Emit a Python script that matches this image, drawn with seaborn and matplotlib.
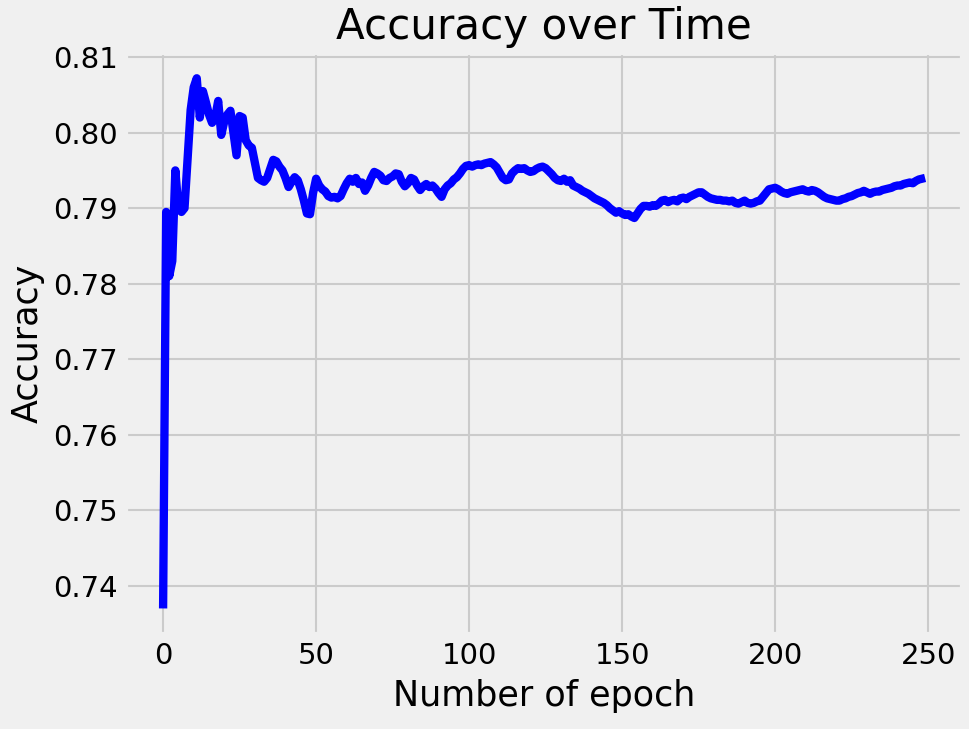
import matplotlib
matplotlib.use("Agg")
import matplotlib.pyplot as plt
import seaborn as sns
import pandas as pd

# --- Data ---
epochs = list(range(250))

accuracy = [
    0.7370, 0.7895, 0.7810, 0.7830, 0.7950, 0.7900, 0.7895, 0.7900, 0.7965, 0.8030,
    0.8060, 0.8072, 0.8020, 0.8055, 0.8040, 0.8024, 0.8013, 0.8020, 0.8042, 0.7997,
    0.8015, 0.8024, 0.8029, 0.8000, 0.7970, 0.8022, 0.8020, 0.7990, 0.7983, 0.7980,
    0.7960, 0.7940, 0.7937, 0.7935, 0.7940, 0.7952, 0.7964, 0.7962, 0.7955, 0.7950,
    0.7940, 0.7928, 0.7935, 0.7941, 0.7937, 0.7925, 0.7910, 0.7893, 0.7892, 0.7920,
    0.7939, 0.7930, 0.7925, 0.7922, 0.7916, 0.7914, 0.7915, 0.7913, 0.7916, 0.7925,
    0.7933, 0.7939, 0.7935, 0.7940, 0.7932, 0.7934, 0.7923, 0.7930, 0.7940, 0.7948,
    0.7946, 0.7943, 0.7937, 0.7936, 0.7940, 0.7942, 0.7946, 0.7945, 0.7935, 0.7929,
    0.7933, 0.7940, 0.7938, 0.7930, 0.7924, 0.7929, 0.7932, 0.7928, 0.7930, 0.7926,
    0.7920, 0.7915, 0.7925, 0.7930, 0.7933, 0.7938, 0.7941, 0.7946, 0.7952, 0.7956,
    0.7957, 0.7955, 0.7957, 0.7958, 0.7957, 0.7959, 0.7960, 0.7961, 0.7958, 0.7954,
    0.7947, 0.7940, 0.7937, 0.7938, 0.7946, 0.7950, 0.7953, 0.7952, 0.7953, 0.7950,
    0.7948, 0.7949, 0.7952, 0.7954, 0.7955, 0.7953, 0.7949, 0.7945, 0.7940, 0.7937,
    0.7936, 0.7939, 0.7935, 0.7937, 0.7930, 0.7928, 0.7926, 0.7923, 0.7921, 0.7919,
    0.7916, 0.7913, 0.7911, 0.7909, 0.7907, 0.7904, 0.7900, 0.7897, 0.7894, 0.7896,
    0.7893, 0.7891, 0.7892, 0.7889, 0.7887, 0.7893, 0.7899, 0.7903, 0.7903, 0.7902,
    0.7904, 0.7903, 0.7906, 0.7910, 0.7911, 0.7908, 0.7910, 0.7911, 0.7909, 0.7913,
    0.7914, 0.7912, 0.7915, 0.7917, 0.7919, 0.7921, 0.7921, 0.7918, 0.7915, 0.7913,
    0.7912, 0.7911, 0.7911, 0.7910, 0.7910, 0.7909, 0.7910, 0.7907, 0.7906, 0.7908,
    0.7910, 0.7907, 0.7906, 0.7907, 0.7909, 0.7910, 0.7915, 0.7920, 0.7925, 0.7926,
    0.7927, 0.7925, 0.7922, 0.7920, 0.7919, 0.7921, 0.7922, 0.7923, 0.7924, 0.7925,
    0.7923, 0.7922, 0.7924, 0.7923, 0.7921, 0.7918, 0.7915, 0.7913, 0.7912, 0.7911,
    0.7910, 0.7910, 0.7912, 0.7913, 0.7915, 0.7916, 0.7918, 0.7920, 0.7921, 0.7923,
    0.7921, 0.7919, 0.7921, 0.7922, 0.7922, 0.7924, 0.7925, 0.7926, 0.7927, 0.7929,
    0.7930, 0.7930, 0.7932, 0.7933, 0.7934, 0.7933, 0.7936, 0.7938, 0.7939, 0.7940,
]

df = pd.DataFrame({"epoch": epochs, "accuracy": accuracy})

# --- Plot ---
plt.style.use("fivethirtyeight")
fig, ax = plt.subplots(figsize=(6.46, 4.86), dpi=150)
fig.patch.set_facecolor("#f0f0f0")

sns.lineplot(data=df, x="epoch", y="accuracy", color="blue", linewidth=4, ax=ax)

ax.set_title("Accuracy over Time")
ax.set_xlabel("Number of epoch")
ax.set_ylabel("Accuracy")
ax.set_xticks([0, 50, 100, 150, 200, 250])

fig.subplots_adjust(left=0.129, right=0.994, top=0.929, bottom=0.129)
fig.savefig("out.png", dpi=150, facecolor=fig.get_facecolor())
